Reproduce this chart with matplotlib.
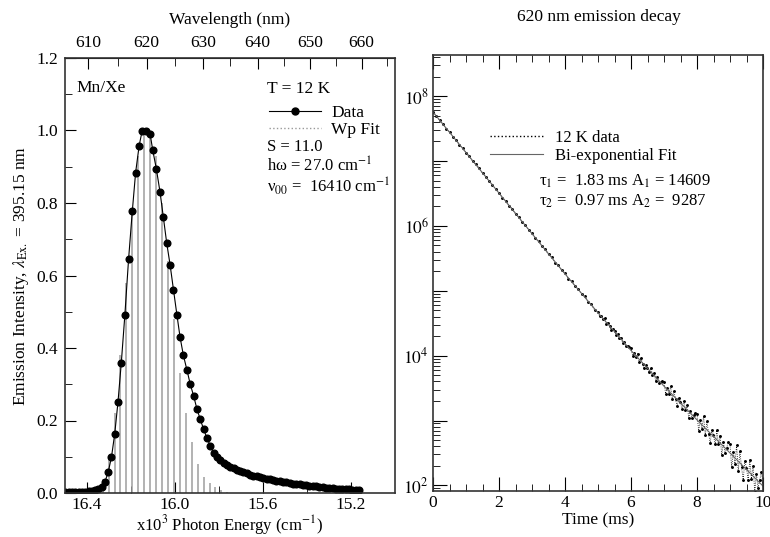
import numpy as np
import matplotlib
matplotlib.use("Agg")
import matplotlib.pyplot as plt
from matplotlib.lines import Line2D
from matplotlib.ticker import FixedLocator, MultipleLocator, LogLocator, FuncFormatter, NullFormatter

plt.rcParams["font.family"] = "serif"
plt.rcParams["font.serif"] = ["Liberation Serif", "DejaVu Serif"]
plt.rcParams["mathtext.fontset"] = "stix"
plt.rcParams["font.size"] = 12.5

# Left panel: emission spectrum (x10^3 cm^-1) and Wp fit sticks
energy = [16.498, 16.483, 16.468, 16.453, 16.438, 16.423, 16.408, 16.393, 16.378, 16.364,
          16.349, 16.334, 16.319, 16.304, 16.289, 16.274, 16.259, 16.244, 16.228, 16.211,
          16.194, 16.179, 16.163, 16.149, 16.131, 16.113, 16.101, 16.085, 16.068, 16.053,
          16.038, 16.022, 16.007, 15.991, 15.977, 15.962, 15.946, 15.931, 15.915, 15.900,
          15.885, 15.870, 15.855, 15.840, 15.825, 15.809, 15.794, 15.779, 15.764, 15.749,
          15.734, 15.719, 15.704, 15.689, 15.674, 15.659, 15.644, 15.629, 15.614, 15.599,
          15.584, 15.569, 15.554, 15.539, 15.524, 15.509, 15.494, 15.479, 15.464, 15.449,
          15.434, 15.419, 15.404, 15.389, 15.374, 15.359, 15.344, 15.329, 15.314, 15.299,
          15.284, 15.269, 15.254, 15.239, 15.224, 15.209, 15.194, 15.179, 15.164]
intensity = [0.002, 0.002, 0.002, 0.003, 0.003, 0.003, 0.004, 0.005, 0.006, 0.008,
             0.011, 0.016, 0.030, 0.057, 0.098, 0.163, 0.252, 0.360, 0.490, 0.645,
             0.778, 0.884, 0.958, 1.000, 0.998, 0.990, 0.945, 0.895, 0.830, 0.761,
             0.691, 0.628, 0.561, 0.490, 0.430, 0.380, 0.340, 0.301, 0.267, 0.231,
             0.203, 0.176, 0.152, 0.131, 0.111, 0.098, 0.090, 0.084, 0.078, 0.073,
             0.068, 0.064, 0.060, 0.057, 0.054, 0.051, 0.048, 0.046, 0.044, 0.042,
             0.040, 0.038, 0.036, 0.034, 0.032, 0.031, 0.029, 0.028, 0.026, 0.025,
             0.024, 0.022, 0.021, 0.020, 0.019, 0.018, 0.017, 0.016, 0.015, 0.014,
             0.013, 0.012, 0.012, 0.011, 0.010, 0.010, 0.009, 0.009, 0.008]
stick_energy = [16.356, 16.329, 16.302, 16.275, 16.248, 16.221, 16.194, 16.167, 16.140, 16.113,
                16.086, 16.059, 16.032, 16.005, 15.978, 15.951, 15.924, 15.897, 15.870, 15.843,
                15.816, 15.789, 15.762]
stick_height = [0.01, 0.04, 0.10, 0.22, 0.38, 0.58, 0.78, 0.93, 1.00, 1.00,
                0.93, 0.80, 0.64, 0.48, 0.33, 0.22, 0.14, 0.08, 0.045, 0.028,
                0.016, 0.008, 0.004]
wavelength_ticks = [610, 620, 630, 640, 650, 660]
wavelength_minor = [605, 615, 625, 635, 645, 655, 665]

# Right panel: 620 nm decay, log10 of counts
time_early = np.arange(0, 4.95, 0.1)
log_counts_early = [7.755, 7.698, 7.626, 7.571, 7.499, 7.447, 7.377, 7.324, 7.250, 7.195,
                    7.126, 7.074, 6.998, 6.947, 6.888, 6.812, 6.760, 6.685, 6.636, 6.564,
                    6.512, 6.434, 6.385, 6.312, 6.265, 6.186, 6.134, 6.058, 6.013, 5.938,
                    5.889, 5.807, 5.763, 5.686, 5.644, 5.560, 5.514, 5.434, 5.394, 5.315,
                    5.273, 5.188, 5.149, 5.066, 5.031, 4.951, 4.915, 4.827, 4.790, 4.704]
time_late = np.arange(5.0, 10.025, 0.05)
log_counts_late = [4.678, 4.604, 4.611, 4.561, 4.574, 4.494, 4.510, 4.451, 4.400, 4.414,
                   4.373, 4.323, 4.339, 4.274, 4.275, 4.195, 4.208, 4.152, 4.144, 4.134,
                   4.116, 3.999, 4.043, 3.974, 4.030, 3.901, 3.963, 3.876, 3.803, 3.863,
                   3.811, 3.742, 3.804, 3.705, 3.737, 3.608, 3.664, 3.583, 3.597, 3.609,
                   3.590, 3.414, 3.508, 3.412, 3.526, 3.330, 3.454, 3.328, 3.227, 3.346,
                   3.280, 3.184, 3.308, 3.162, 3.236, 3.040, 3.154, 3.038, 3.082, 3.121,
                   3.106, 2.841, 3.007, 2.870, 3.068, 2.771, 2.985, 2.800, 2.654, 2.861,
                   2.771, 2.634, 2.848, 2.631, 2.765, 2.468, 2.666, 2.497, 2.583, 2.662,
                   2.632, 2.277, 2.515, 2.336, 2.618, 2.219, 2.523, 2.278, 2.087, 2.381,
                   2.267, 2.088, 2.392, 2.103, 2.297, 1.898, 2.180, 1.957, 2.085, 2.203,
                   2.050]
fit_time = [0, 1, 2, 3, 4, 5, 6, 7, 8, 9, 10]
fit_log_counts = [7.755, 7.13, 6.505, 5.88, 5.26, 4.66, 4.08, 3.53, 3.01, 2.50, 1.99]

fig = plt.figure(figsize=(7.7, 5.37), dpi=100)
ax1 = fig.add_axes([65 / 770, 44 / 537, 330 / 770, 435 / 537])
ax2 = fig.add_axes([433 / 770, 46 / 537, 330 / 770, 436 / 537])

# ---- left panel ----
ax1.vlines(stick_energy, 0, stick_height, color="0.62", lw=1.1)
ax1.plot(energy, intensity, color="black", lw=0.8, marker="o", ms=4.8, mec="black", mfc="black")
ax1.set_xlim(16.5, 15.0)
ax1.set_ylim(0, 1.2)
ax1.xaxis.set_major_locator(FixedLocator([16.4, 16.0, 15.6, 15.2]))
ax1.xaxis.set_minor_locator(FixedLocator([16.2, 15.8, 15.4]))
ax1.yaxis.set_major_locator(MultipleLocator(0.2))
ax1.yaxis.set_minor_locator(MultipleLocator(0.1))
ax1.yaxis.set_major_formatter(FuncFormatter(lambda v, p: f"{v:.1f}"))
ax1.tick_params(which="both", direction="in", top=False, right=False)
ax1.tick_params(which="major", length=8, pad=5)
ax1.tick_params(axis="x", which="major", pad=3)
ax1.tick_params(which="minor", length=5)
ax1.set_xlabel("x10$^3$ Photon Energy (cm$^{-1}$)", labelpad=0, fontsize=12)
ax1.set_ylabel("Emission Intensity, $\\lambda_{\\mathrm{Ex.}}$ = 395.15 nm", labelpad=4)

sec = ax1.secondary_xaxis("top", functions=(lambda e: 1e4 / e, lambda nm: 1e4 / nm))
sec.xaxis.set_major_locator(FixedLocator(wavelength_ticks))
sec.xaxis.set_minor_locator(FixedLocator(wavelength_minor))
sec.xaxis.set_minor_formatter(NullFormatter())
sec.tick_params(which="both", direction="in", pad=5)
sec.tick_params(which="major", length=8)
sec.tick_params(which="minor", length=6)
sec.set_xlabel("Wavelength (nm)", labelpad=8)

ax1.text(0.036, 0.931, "Mn/Xe", transform=ax1.transAxes, va="center", fontsize=12.5)
ax1.text(0.612, 0.929, "T = 12 K", transform=ax1.transAxes, va="center", fontsize=12.5)
h_data = Line2D([], [], color="black", lw=0.8, marker="o", ms=5)
h_fit = Line2D([], [], color="0.6", lw=1.0, ls=":")
ax1.legend([h_data, h_fit], ["Data", "Wp Fit"], loc="upper left", bbox_to_anchor=(0.58, 0.92),
           frameon=False, handlelength=3.0, handletextpad=0.6, labelspacing=0.05,
           borderpad=0.2, fontsize=12.5)
ax1.text(0.612, 0.796, "S = 11.0", transform=ax1.transAxes, va="center", fontsize=12)
ax1.text(0.612, 0.752, "hω = 27.0 cm$^{-1}$", transform=ax1.transAxes, va="center", fontsize=12)
ax1.text(0.612, 0.706, "ν$_{00}$ =  16410 cm$^{-1}$", transform=ax1.transAxes, va="center", fontsize=12)

# ---- right panel ----
decay_time = np.concatenate([time_early, time_late])
decay_counts = 10 ** np.array(log_counts_early + log_counts_late)
ax2.plot(decay_time, decay_counts, ls=":", lw=0.6, marker="o", ms=1.1, color="black")
ax2.plot(fit_time, 10 ** np.array(fit_log_counts), color="0.4", lw=0.8)
ax2.set_yscale("log")
ax2.set_xlim(0, 10)
ax2.set_ylim(82, 4.3e8)
ax2.xaxis.set_major_locator(MultipleLocator(2))
ax2.xaxis.set_minor_locator(MultipleLocator(0.5))
ax2.yaxis.set_major_locator(LogLocator(base=10, numticks=20))
ax2.yaxis.set_minor_locator(LogLocator(base=10, subs=np.arange(2, 10), numticks=20))
ax2.yaxis.set_minor_formatter(NullFormatter())


def even_decades(v, p):
    n = int(round(np.log10(v)))
    return f"$10^{{{n}}}$" if n % 2 == 0 else ""


ax2.yaxis.set_major_formatter(FuncFormatter(even_decades))
ax2.tick_params(which="both", direction="in", top=True, right=False)
ax2.tick_params(axis="x", which="major", length=10, pad=3)
ax2.tick_params(axis="x", which="minor", length=5)
ax2.tick_params(axis="y", which="major", length=10, pad=3)
ax2.tick_params(axis="y", which="minor", length=5)
ax2.set_xlabel("Time (ms)", labelpad=1)
fig.text(0.778, 0.968, "620 nm emission decay", ha="center", va="center", fontsize=12.5)

h_dec = Line2D([], [], color="black", lw=1.0, ls=":")
h_bi = Line2D([], [], color="0.4", lw=0.8)
ax2.legend([h_dec, h_bi], ["12 K data", "Bi-exponential Fit"], loc="upper left",
           bbox_to_anchor=(0.137, 0.855), frameon=False, handlelength=3.2, handletextpad=0.7,
           labelspacing=0.1, borderpad=0.2, fontsize=12)
ax2.text(0.322, 0.711, "τ$_1$ =  1.83 ms A$_1$ = 14609", transform=ax2.transAxes, va="center", fontsize=12)
ax2.text(0.322, 0.665, "τ$_2$ =  0.97 ms A$_2$ =  9287", transform=ax2.transAxes, va="center", fontsize=12)

for ax in (ax1, ax2):
    for s in ax.spines.values():
        s.set_linewidth(1.2)
        s.set_color("0.2")

fig.savefig("out.png", dpi=100)
